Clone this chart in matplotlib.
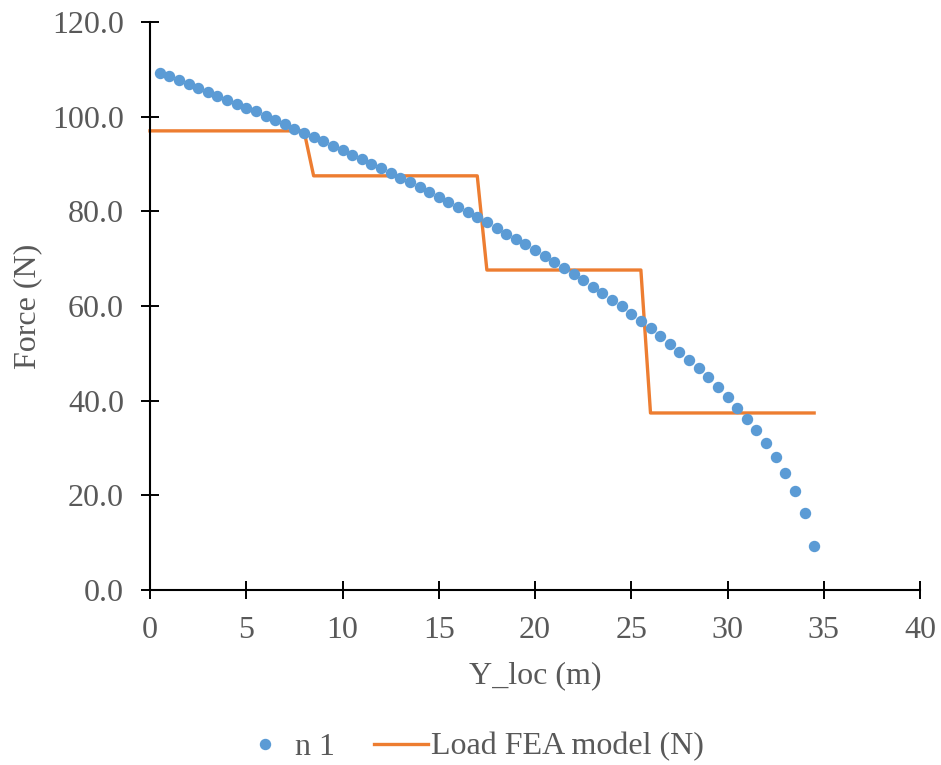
import matplotlib
matplotlib.use("Agg")
import matplotlib.pyplot as plt
from matplotlib.ticker import FormatStrFormatter

plt.rcParams['font.family'] = ['Liberation Serif', 'DejaVu Serif']

y_loc = [0.5, 1.0, 1.5, 2.0, 2.5, 3.0, 3.5, 4.0, 4.5, 5.0, 5.5, 6.0, 6.5, 7.0, 7.5,
         8.0, 8.5, 9.0, 9.5, 10.0, 10.5, 11.0, 11.5, 12.0, 12.5, 13.0, 13.5, 14.0,
         14.5, 15.0, 15.5, 16.0, 16.5, 17.0, 17.5, 18.0, 18.5, 19.0, 19.5, 20.0,
         20.5, 21.0, 21.5, 22.0, 22.5, 23.0, 23.5, 24.0, 24.5, 25.0, 25.5, 26.0,
         26.5, 27.0, 27.5, 28.0, 28.5, 29.0, 29.5, 30.0, 30.5, 31.0, 31.5, 32.0,
         32.5, 33.0, 33.5, 34.0, 34.5]
n1 = [109.3, 108.5, 107.8, 107.0, 106.1, 105.3, 104.4, 103.6, 102.7, 101.9, 101.1,
      100.1, 99.3, 98.5, 97.5, 96.6, 95.7, 94.8, 93.8, 92.9, 91.9, 91.0, 90.0, 89.1,
      88.1, 87.1, 86.1, 85.1, 84.1, 83.0, 82.0, 80.9, 79.9, 78.7, 77.7, 76.5, 75.3,
      74.2, 73.0, 71.8, 70.6, 69.3, 68.0, 66.8, 65.4, 64.1, 62.7, 61.3, 59.9, 58.4,
      56.9, 55.3, 53.7, 52.0, 50.3, 48.6, 46.8, 44.9, 42.9, 40.8, 38.5, 36.2, 33.7,
      31.0, 28.0, 24.8, 21.0, 16.2, 9.4]

fea_x = [0.0, 8.0, 8.5, 17.0, 17.5, 25.5, 26.0, 34.5]
fea_y = [97.0, 97.0, 87.5, 87.5, 67.6, 67.6, 37.4, 37.4]

x_ticks = [0, 5, 10, 15, 20, 25, 30, 35, 40]
y_ticks = [0, 20, 40, 60, 80, 100, 120]

FS = 23
GREY = '#595959'

fig = plt.figure(figsize=(9.41, 7.65), dpi=100)
ax = fig.add_axes([150/941, 1-590/765, (920-150)/941, (590-22)/765])

ax.plot(y_loc, n1, linestyle='none', marker='o', markersize=7.2,
        color='#5B9BD5', label='n 1', clip_on=False, zorder=3)
ax.plot(fea_x, fea_y, color='#ED7D31', linewidth=2.4,
        label='Load FEA model (N)', clip_on=False, zorder=2)

ax.set_xlim(0, 40)
ax.set_ylim(0, 120)
ax.set_xticks(x_ticks)
ax.set_yticks(y_ticks)
ax.yaxis.set_major_formatter(FormatStrFormatter('%.1f'))

for s in ['top', 'right']:
    ax.spines[s].set_visible(False)
for s in ['left', 'bottom']:
    ax.spines[s].set_linewidth(1.5)
    ax.spines[s].set_color('black')

ax.tick_params(axis='both', direction='inout', length=13.5, width=1.4,
               color='black', labelsize=FS, labelcolor=GREY)
ax.tick_params(axis='x', pad=12)
ax.tick_params(axis='y', pad=12)

ax.set_xlabel('Y_loc (m)', fontsize=FS, color=GREY, labelpad=12)
ax.set_ylabel('Force (N)', fontsize=FS, color=GREY, labelpad=7)

fig.legend(loc='center', bbox_to_anchor=(471/941, 1-747/765), ncol=2,
           frameon=False, fontsize=FS, labelcolor=GREY,
           handlelength=1.7, columnspacing=1.2, handletextpad=0.1)

fig.savefig('out.png', dpi=100)
